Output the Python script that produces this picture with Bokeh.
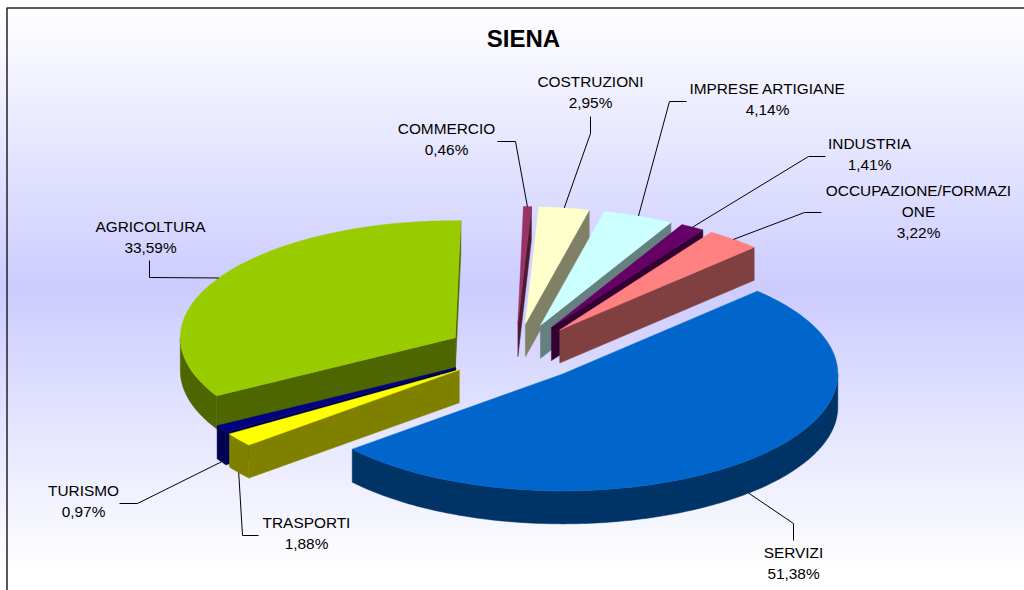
import math
from bokeh.plotting import figure
from bokeh.models import Range1d
from bokeh.core.properties import value
from bokeh.embed import file_html
from bokeh.resources import INLINE

# ---- data (clockwise, starting at the SERVIZI slice)
categories = ["SERVIZI", "TRASPORTI", "TURISMO", "AGRICOLTURA", "COMMERCIO",
              "COSTRUZIONI", "IMPRESE ARTIGIANE", "INDUSTRIA", "OCCUPAZIONE/FORMAZI\nONE"]
values = [51.38, 1.88, 0.97, 33.59, 0.46, 2.95, 4.14, 1.41, 3.22]
top_colors = ["#0066CC", "#FFFF00", "#000080", "#99CC00", "#993366",
              "#FFFFCC", "#CCFFFF", "#660066", "#FF8080"]
side_colors = ["#003366", "#808000", "#000050", "#4D6600", "#4D1A33",
               "#808066", "#668080", "#330033", "#804040"]
title_text = "SIENA"

# ---- layout of the projected pie (page pixels)
W, H = 1024, 590
CX, CY = 515, 352
RX, RY = 275, 117
EX, EY = 70, 29
DEPTH = 33
START = 45
FONT = "Liberation Sans"

# label centre (x, y of the first line); leader elbow and end
label_pos = [(793, 552), (306, 522), (83, 490), (150, 226), (446, 128),
             (590, 81), (767, 88), (869, 143), (918, 190)]
leader_via = [[(793, 523), (793, 540)], [(242, 535), (258, 535)], [(137, 503), (119, 503)],
              [(149, 277), (149, 260)], [(515, 141), (497, 141)], [(590, 133), (590, 116)],
              [(669, 101), (686, 101)], [(808, 156), (825, 156)], [(804, 212), (821, 212)]]
ROW = 21


def unit(t):
    r = math.radians(t)
    return math.sin(r), -math.cos(r)


p = figure(width=W, height=H, output_backend="svg", toolbar_location=None,
           x_range=Range1d(0, W), y_range=Range1d(H, 0), min_border=0,
           outline_line_color=None,
           background_fill_alpha=0, border_fill_alpha=0,
           styles={"background": "linear-gradient(to bottom, #FFFFFF 1.2%, #CCCCFF 49%, #FFFFFF 97%)"})
p.xaxis.visible = False
p.yaxis.visible = False
p.xgrid.visible = False
p.ygrid.visible = False

# ---- slices
total = sum(values)
slices = []
a = START
for i, v in enumerate(values):
    b = a + v / total * 360
    mid = (a + b) / 2
    mu, mv = unit(mid)
    ax, ay = CX + EX * mu, CY + EY * mv
    slices.append(dict(i=i, a=a, b=b, mid=mid, ax=ax, ay=ay))
    a = b


def rim(s, t):
    u, w = unit(t)
    return s["ax"] + RX * u, s["ay"] + RY * w


def arc(s, t0, t1):
    n = max(2, int(abs(t1 - t0)) + 2)
    return [rim(s, t0 + (t1 - t0) * k / (n - 1)) for k in range(n)]


for s in sorted(slices, key=lambda q: q["ay"]):
    i = s["i"]
    faces = []
    # radial walls turned towards the viewer
    for t, sign in ((s["a"], -1), (s["b"], 1)):
        if sign * math.sin(math.radians(t)) > 0:
            rx, ry = rim(s, t)
            faces.append([(s["ax"], s["ay"]), (rx, ry), (rx, ry + DEPTH), (s["ax"], s["ay"] + DEPTH)])
    # outer wall, front half only
    lo, hi = max(s["a"], 90), min(s["b"], 270)
    if hi > lo:
        pts = arc(s, lo, hi)
        faces.append(pts + [(x, y + DEPTH) for x, y in reversed(pts)])
    for f in faces:
        p.patch([q[0] for q in f], [q[1] for q in f], fill_color=side_colors[i],
                line_color=side_colors[i], line_width=0.5)
    pts = [(s["ax"], s["ay"])] + arc(s, s["a"], s["b"])
    p.patch([q[0] for q in pts], [q[1] for q in pts], fill_color=top_colors[i],
            line_color=top_colors[i], line_width=0.5)

# ---- leaders and labels
for s in slices:
    i = s["i"]
    x0, y0 = rim(s, s["mid"])
    if unit(s["mid"])[1] > 0:
        y0 += DEPTH
    via = leader_via[i]
    p.line([x0] + [q[0] for q in via], [y0] + [q[1] for q in via], line_color="#000000", line_width=1)
    lines = categories[i].split("\n") + [f"{values[i]:.2f}".replace(".", ",") + "%"]
    lx, ly = label_pos[i]
    p.text([lx] * len(lines), [ly + ROW * k for k in range(len(lines))], text=lines,
           text_font=value(FONT), text_font_size="15.4px", text_color="#000000",
           text_align="center", text_baseline="middle")

p.text([523], [38], text=[title_text], text_font=value(FONT), text_font_size="24px",
       text_font_style="bold", text_color="#000000", text_align="center", text_baseline="middle")

# ---- chart frame
p.line([6.5, 6.5, W], [H, 7.5, 7.5], line_color="#222222", line_width=1.5)

open("out.html", "w").write(file_html(p, INLINE))
